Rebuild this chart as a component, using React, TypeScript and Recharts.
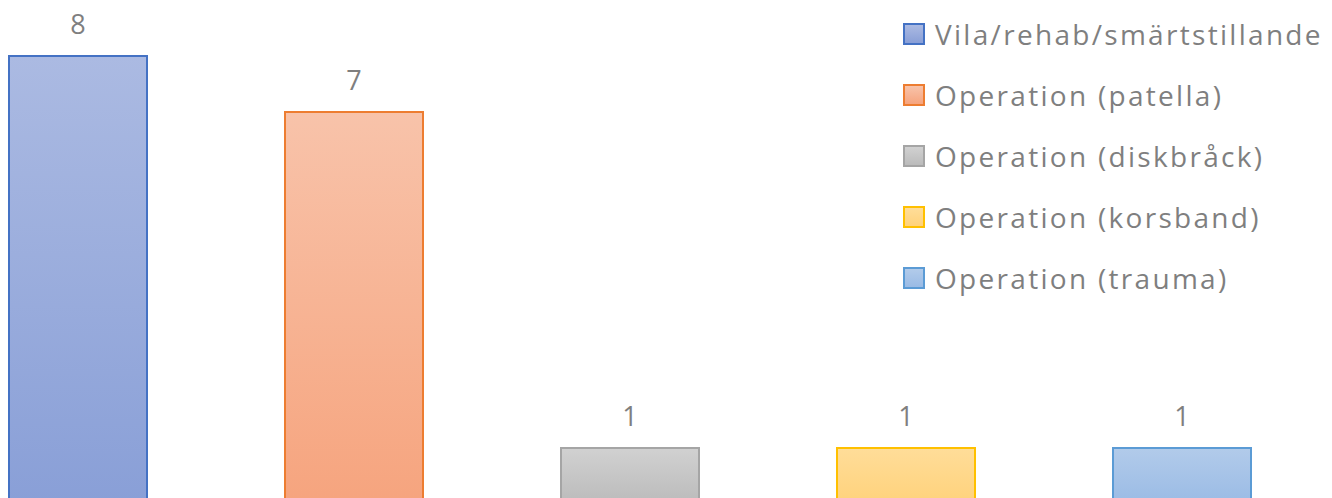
import { BarChart, Bar, XAxis, YAxis, Cell, LabelList } from 'recharts';

const categories = [
  'Vila/rehab/smärtstillande',
  'Operation (patella)',
  'Operation (diskbråck)',
  'Operation (korsband)',
  'Operation (trauma)',
];
const counts = [8, 7, 1, 1, 1];

const strokeColors = ['#4472c4', '#ed7d31', '#a5a5a5', '#ffc000', '#5b9bd5'];
const topColors = ['#abbae2', '#f8c3aa', '#d1d1d1', '#ffdd99', '#b2cbea'];
const bottomColors = ['#899fd7', '#f6a47e', '#bbbbbb', '#ffd27b', '#9abbe5'];

const data = categories.map((name, i) => ({ name, count: counts[i] }));

const font = '"Open Sans", Lato, sans-serif';

function LegendBox() {
  return (
    <div style={{ position: 'absolute', top: 3, left: 903, fontFamily: font }}>
      {categories.map((name, i) => (
        <div
          key={name}
          style={{
            display: 'flex',
            alignItems: 'center',
            height: 61,
            color: '#7f7f7f',
            fontSize: 28,
            letterSpacing: 2.3,
            whiteSpace: 'nowrap',
          }}
        >
          <span
            style={{
              display: 'inline-block',
              width: 18,
              height: 18,
              border: `2px solid ${strokeColors[i]}`,
              background: `linear-gradient(${topColors[i]}, ${bottomColors[i]})`,
              marginRight: 10,
            }}
          />
          <span>{name}</span>
        </div>
      ))}
    </div>
  );
}

export default function App() {
  return (
    <div style={{ position: 'absolute', top: 0, left: 0, width: 1332, height: 498, overflow: 'hidden', background: '#fff' }}>
      <BarChart
        width={1332}
        height={504}
        data={data}
        margin={{ top: 0, right: 12, left: -60, bottom: 0 }}
        barCategoryGap={0}
      >
        <defs>
          {categories.map((_, i) => (
            <linearGradient key={i} id={`g${i}`} x1="0" y1="0" x2="0" y2="1">
              <stop offset="0%" stopColor={topColors[i]} />
              <stop offset="100%" stopColor={bottomColors[i]} />
            </linearGradient>
          ))}
        </defs>
        <XAxis dataKey="name" hide />
        <YAxis hide domain={[0, 9]} />
        <Bar dataKey="count" barSize={138} isAnimationActive={false} strokeWidth={2}>
          {data.map((_, i) => (
            <Cell key={i} fill={`url(#g${i})`} stroke={strokeColors[i]} />
          ))}
          <LabelList dataKey="count" position="top" offset={22} fill="#7f7f7f" fontSize={27} fontFamily={font} />
        </Bar>
      </BarChart>
      <LegendBox />
    </div>
  );
}
